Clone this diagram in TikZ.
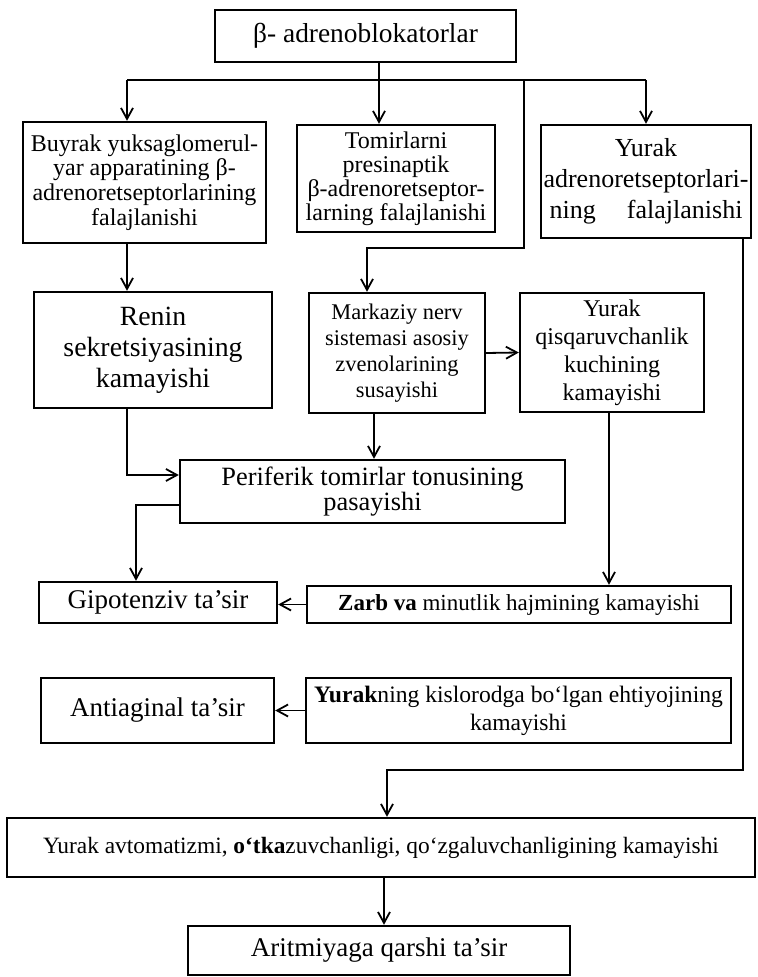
\documentclass[tikz,border=0pt]{standalone}
\usepackage{fontspec}
\setmainfont{Liberation Serif}
\usetikzlibrary{arrows.meta}

\begin{document}
\begin{tikzpicture}[
        x=0.5pt, y=-0.5pt,
        blok/.style={draw, line width=1.2pt, align=center, inner sep=0pt},
        chiziq/.style={line width=0.9pt},
        strelka/.style={chiziq, -{Straight Barb[length=5.5pt,width=6pt]}}]
        % 画布大小
        \useasboundingbox (0,0) rectangle (758,977);
        % 第一层
        \node[blok, minimum width=150.5pt, minimum height=26pt,
              font=\fontsize{13.7}{15}\selectfont] (beta) at (365.5,36) {β- adrenoblokatorlar};
        % 第二层
        \node[blok, minimum width=121.5pt, minimum height=60.5pt,
              font=\fontsize{12}{12.3}\selectfont] (buyrak) at (144.5,182.5)
              {Buyrak yuksaglomerul-\\yar apparatining β-\\adrenoretseptorlarining\\falajlanishi};
        \node[blok, minimum width=99pt, minimum height=53.5pt,
              font=\fontsize{12}{12}\selectfont] (tomir) at (396,178.5)
              {Tomirlarni\\presinaptik\\β-adrenoretseptor-\\larning falajlanishi};
        \node[blok, minimum width=105pt, minimum height=56.5pt,
              font=\fontsize{13}{15.5}\selectfont] (yurak) at (646,181.5)
              {Yurak\\adrenoretseptorlari-\\ning\hspace{1.2em}falajlanishi};
        % 第三层
        \node[blok, minimum width=119pt, minimum height=58pt,
              font=\fontsize{13.9}{15.5}\selectfont] (renin) at (153,350)
              {Renin\\sekretsiyasining\\kamayishi};
        \node[blok, minimum width=88pt, minimum height=60pt,
              font=\fontsize{11.2}{13}\selectfont] (markaz) at (397,353)
              {Markaziy nerv\\sistemasi asosiy\\zvenolarining\\susayishi};
        \node[blok, minimum width=92pt, minimum height=59.5pt,
              font=\fontsize{12}{14}\selectfont] (qisq) at (612,352.5)
              {Yurak\\qisqaruvchanlik\\kuchining\\kamayishi};
        % 第四层
        \node[blok, minimum width=192.5pt, minimum height=31.5pt,
              font=\fontsize{13.2}{12.5}\selectfont] (perif) at (372.5,491.5)
              {Periferik tomirlar tonusining\\pasayishi};
        % 第五层
        \node[blok, minimum width=119pt, minimum height=20.5pt,
              font=\fontsize{13.5}{15}\selectfont] (gipo) at (158,602.5) {Gipotenziv ta’sir};
        \node[blok, minimum width=212pt, minimum height=18.5pt,
              font=\fontsize{11.5}{14}\selectfont] (zarb) at (519,604.5)
              {\textbf{Zarb va} minutlik hajmining kamayishi};
        % 第六层
        \node[blok, minimum width=116.5pt, minimum height=32.5pt,
              font=\fontsize{13.5}{15}\selectfont] (anti) at (157.5,710.5) {Antiaginal ta’sir};
        \node[blok, minimum width=212.5pt, minimum height=32.5pt,
              font=\fontsize{11.8}{14}\selectfont] (yurakn) at (518.5,710.5)
              {\textbf{Yurak}ning kislorodga bo‘lgan ehtiyojining\\kamayishi};
        % 最后两层
        \node[blok, minimum width=374pt, minimum height=29.5pt,
              font=\fontsize{11.7}{14}\selectfont] (avto) at (381,847.5)
              {Yurak avtomatizmi, \textbf{o‘tka}zuvchanligi, qo‘zgaluvchanligining kamayishi};
        \node[blok, minimum width=191pt, minimum height=24.5pt,
              font=\fontsize{13.5}{15}\selectfont] (arit) at (379,950.5) {Aritmiyaga qarshi ta’sir};
        % 定义折点
        \coordinate (barL) at (127,80);
        \coordinate (barM) at (379,80);
        \coordinate (barX) at (524,80);
        \coordinate (barR) at (646,80);
        \coordinate (t1) at (524,248);
        \coordinate (t2) at (367,248);
        \coordinate (r1) at (127,475);
        \coordinate (m1) at (374,436);
        \coordinate (p1) at (136,505);
        \coordinate (q1) at (609,500);
        \coordinate (y1) at (743,770);
        \coordinate (y2) at (387,770);
        \coordinate (a1) at (384,900);
        % 上部连线
        \draw[chiziq] (barL) -- (barR);
        \draw[chiziq] (beta.south -| barM) -- (barM);
        \draw[strelka] (barL) -- (buyrak.north -| barL);
        \draw[strelka] (barM) -- (tomir.north -| barM);
        \draw[strelka] (barR) -- (yurak.north -| barR);
        \draw[strelka] (barX) -- (t1) -- (t2) -- (markaz.north -| t2);
        % 中部连线
        \draw[strelka] (buyrak.south -| barL) -- (renin.north -| barL);
        \draw[strelka] (markaz.east) -- (qisq.west);
        \draw[strelka] (renin.south -| r1) -- (r1) -- (perif.west |- r1);
        \draw[strelka] (markaz.south -| m1) -- (perif.north -| m1);
        \draw[strelka] (perif.west |- p1) -- (p1) -- (gipo.north -| p1);
        \draw[strelka] (qisq.south -| q1) -- (zarb.north -| q1);
        \draw[strelka] (zarb.west) -- (gipo.east |- zarb.west);
        \draw[strelka] (yurakn.west) -- (anti.east |- yurakn.west);
        % 下部连线
        \draw[strelka] (yurak.south -| y1) -- (y1) -- (y2) -- (avto.north -| y2);
        \draw[strelka] (avto.south -| a1) -- (arit.north -| a1);
\end{tikzpicture}
\end{document}
